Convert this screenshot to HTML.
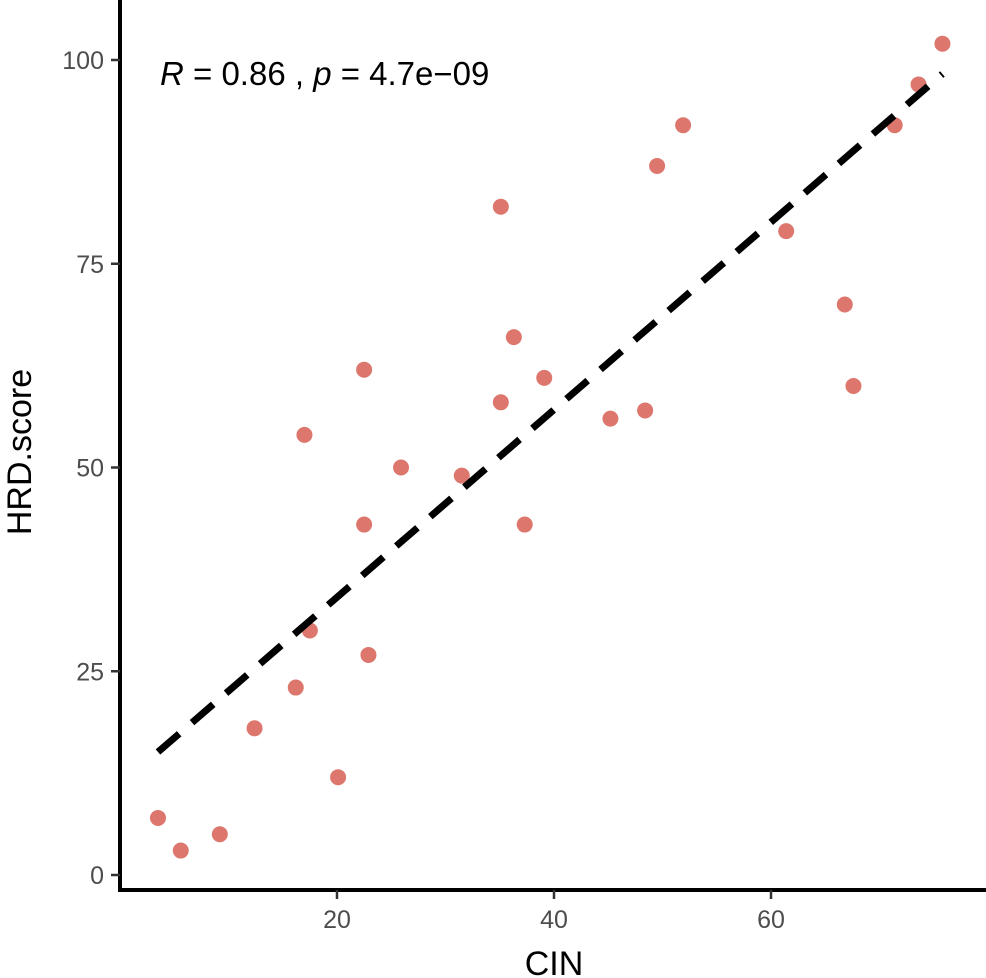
<!DOCTYPE html>
<html><head><meta charset="utf-8"><style>
body{margin:0;background:#fff}
svg{display:block;font-family:"Liberation Sans",Arial,sans-serif}
</style></head><body>
<svg id="chart" width="986" height="978"></svg>
<script>
const cinValues=[3.5,5.6,9.2,12.4,16.2,17.0,17.5,20.1,22.5,22.5,22.9,25.9,31.5,35.1,35.1,36.3,37.3,39.1,45.2,48.4,49.5,51.9,61.4,66.8,67.6,71.4,73.6,75.8];
const hrdValues=[7,3,5,18,23,54,30,12,62,43,27,50,49,82,58,66,43,61,56,57,87,92,79,70,60,92,97,102];
const xTicks=[20,40,60];
const yTicks=[0,25,50,75,100];
const NS="http://www.w3.org/2000/svg";
const svg=document.getElementById('chart');
const xs=v=>120+v*10.85;
const ys=v=>875-v*8.15;
function mk(t,a,p){const e=document.createElementNS(NS,t);for(const k in a)e.setAttribute(k,a[k]);(p||svg).appendChild(e);return e;}
let ax=mk('line',{x1:120,y1:0,x2:120,y2:890,stroke:'#000','stroke-width':4});


ax=mk('line',{x1:118,y1:890,x2:986,y2:890,stroke:'#000','stroke-width':4});


yTicks.forEach(t=>{
  const tk=mk('line',{x1:111,x2:120,y1:ys(t),y2:ys(t),stroke:'#333','stroke-width':2.5});
  
  
  const l=mk('text',{x:104,y:ys(t)+9,'text-anchor':'end','font-size':25,fill:'#4d4d4d'});
  l.textContent=t;
  
  
});
xTicks.forEach(t=>{
  const tk=mk('line',{x1:xs(t),x2:xs(t),y1:890,y2:899,stroke:'#333','stroke-width':2.5});
  
  
  const l=mk('text',{x:xs(t),y:928,'text-anchor':'middle','font-size':25,fill:'#4d4d4d'});
  l.textContent=t;
  
  
});
let tt=mk('text',{x:xs(40),y:975,'text-anchor':'middle','font-size':34,fill:'#000'});
tt.textContent='CIN';


tt=mk('text',{x:0,y:0,'text-anchor':'middle','font-size':34,fill:'#000',transform:'translate(31,452) rotate(-90)'});
tt.textContent='HRD.score';


cinValues.forEach((c,i)=>{
  const p=mk('circle',{cx:xs(c),cy:ys(hrdValues[i]),r:8,fill:'#dd776e'});
  
  
});
const n=cinValues.length;
const mx=cinValues.reduce((a,b)=>a+b)/n,my=hrdValues.reduce((a,b)=>a+b)/n;
let sxy=0,sxx=0;cinValues.forEach((c,i)=>{sxy+=(c-mx)*(hrdValues[i]-my);sxx+=(c-mx)**2;});
const b=sxy/sxx,a0=my-b*mx;
const x0=Math.min(...cinValues),x1=Math.max(...cinValues);
const rl=mk('line',{x1:xs(x0),y1:ys(a0+b*x0),x2:xs(x1),y2:ys(a0+b*x1),stroke:'#000','stroke-width':7,'stroke-dasharray':'28 17'});


const an=mk('text',{x:160,y:85,'font-size':33,fill:'#000'});
an.innerHTML='<tspan font-style="italic">R</tspan> = 0.86 , <tspan font-style="italic">p</tspan> = 4.7e−09';


</script>
</body></html>
